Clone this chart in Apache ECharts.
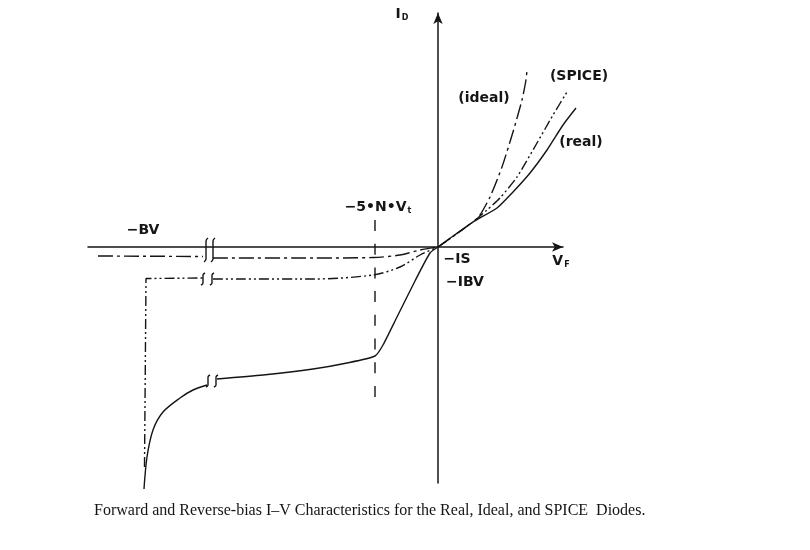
<!DOCTYPE html>
<html>
<head>
<meta charset="utf-8">
<title>Diode I-V</title>
<script src="https://cdn.jsdelivr.net/npm/echarts@6/dist/echarts.min.js"></script>
<style>
  html, body { margin: 0; padding: 0; background: #fff; }
  #main { width: 810px; height: 550px; }
</style>
</head>
<body>
<div id="main"></div>
<script>
// values, [VF, ID] in arbitrary units
const realForward = [[0, 0], [35, 25], [59, 39], [75, 55], [92, 74], [109, 97], [125, 122], [138, 139]];
const realNearOrigin = [[-221, -132], [-175, -128], [-125, -122], [-91, -116], [-63, -109], [-55, -98], [-41, -70], [-23, -34], [-8, -6], [0, 0]];
const realBreakdown = [[-294, -242], [-291, -210], [-285, -183], [-275, -165], [-258, -151], [-245, -143], [-231, -138]];

const idealForward = [[0, 0], [35, 25], [42, 32], [52, 50], [64, 80], [75, 115], [84, 147], [88, 167], [89, 177]];
const idealFar = [[-340, -9], [-235, -9.5]];
const idealNear = [[-225, -11], [-125, -11], [-65, -10.5], [-38, -8], [-18, -3], [0, 0]];

const spiceForward = [[0, 0], [35, 25], [49, 37], [62, 49], [79, 70], [99, 104], [115, 132], [129, 155]];
const spiceDrop = [[-293.5, -220], [-292, -31.5], [-235, -31]];
const spiceNear = [[-225, -32], [-125, -32], [-65, -28], [-38, -20], [-18, -8], [0, 0]];

const thresholdLine = [[-63, 27], [-63, -150]];

const breakMarks = [
  [[-230, 9], [-232, 6], [-232, -12], [-234, -15]],
  [[-223, 9], [-225, 6], [-225, -12], [-227, -15]],
  [[-233, -26], [-235, -28], [-235, -36], [-237, -38]],
  [[-224, -26], [-226, -28], [-226, -36], [-228, -38]],
  [[-228, -128], [-230, -130], [-230, -138], [-232, -140]],
  [[-220, -128], [-222, -130], [-222, -138], [-224, -140]]
];

const labelTexts = ['{n|I}{s|D}', '{n|−5•N•V}{s|t}', '−BV', '(ideal)', '(SPICE)', '(real)', '−IS', '−IBV', '{n|V}{s|F}'];
const labelPoints = [[-36, 233], [-60, 40], [-295, 17], [46, 149], [141, 171], [143, 105], [19, -12], [27, -35], [123, -14]];

const caption = 'Forward and Reverse-bias I–V Characteristics for the Real, Ideal, and SPICE  Diodes.';

const ink = '#151515';
const labelFont = 'DejaVu Sans';
const dashDot = [15, 4, 3, 4];
const dashDotDot = [10, 3, 2, 3, 2, 3];

// the curves run past the arrow of the VF axis, so they sit on a second, hidden
// grid with the same scale as the visible axes
function curve(name, data, dash, smooth) {
  return {
    name: name,
    type: 'line',
    xAxisIndex: 1,
    yAxisIndex: 1,
    data: data,
    silent: true,
    showSymbol: false,
    symbol: 'none',
    smooth: smooth,
    lineStyle: { color: ink, width: 1.4, type: dash }
  };
}

const series = [
  curve('real', realForward, 'solid', 0.2),
  curve('real', realNearOrigin, 'solid', 0.2),
  curve('real', realBreakdown, 'solid', 0.3),
  curve('ideal', idealForward, dashDot, 0.2),
  curve('ideal', idealFar, dashDot, false),
  curve('ideal', idealNear, dashDot, 0.3),
  curve('SPICE', spiceForward, dashDotDot, 0.2),
  curve('SPICE', spiceDrop, dashDotDot, false),
  curve('SPICE', spiceNear, dashDotDot, 0.3),
  curve('-5NVt', thresholdLine, [11, 12.7], false)
];

breakMarks.forEach(function (mark) {
  series.push(curve('break', mark, 'solid', 0.4));
});

series.push({
  name: 'labels',
  type: 'scatter',
  xAxisIndex: 1,
  yAxisIndex: 1,
  symbolSize: 0,
  silent: true,
  itemStyle: { opacity: 1 },
  data: labelPoints.map(function (p, i) {
    return {
      value: p,
      label: {
        show: true,
        position: 'inside',
        formatter: labelTexts[i],
        color: ink,
        fontFamily: labelFont,
        fontSize: 14,
        fontWeight: 'bold',
        rich: {
          n: { color: ink, fontFamily: labelFont, fontSize: 14, fontWeight: 'bold' },
          s: { color: ink, fontFamily: labelFont, fontSize: 8, fontWeight: 'bold', padding: [8, 0, 0, 1] }
        }
      }
    };
  })
});

function hiddenAxis(type, min, max, gridIndex) {
  return { type: type, gridIndex: gridIndex, min: min, max: max, show: false };
}

function arrowAxis(type, min, max) {
  return {
    type: type,
    gridIndex: 0,
    min: min,
    max: max,
    axisLine: { onZero: true, symbol: ['none', 'arrow'], symbolSize: [7, 11], lineStyle: { color: ink, width: 1.5 } },
    axisTick: { show: false },
    axisLabel: { show: false },
    splitLine: { show: false }
  };
}

const myChart = echarts.init(document.getElementById('main'));
const option = {
  animation: false,
  backgroundColor: '#fff',
  title: {
    text: caption,
    left: 94,
    top: 503,
    padding: 0,
    textStyle: { color: ink, fontFamily: 'Liberation Serif', fontSize: 16, fontWeight: 'normal' }
  },
  grid: [
    { left: 88, right: 247, top: 13, bottom: 67 },
    { left: 88, right: 212, top: 7, bottom: 53 }
  ],
  xAxis: [arrowAxis('value', -350, 125), hiddenAxis('value', -350, 160, 1)],
  yAxis: [arrowAxis('value', -236, 234), hiddenAxis('value', -250, 240, 1)],
  series: series
};
myChart.setOption(option);
</script>
</body>
</html>
